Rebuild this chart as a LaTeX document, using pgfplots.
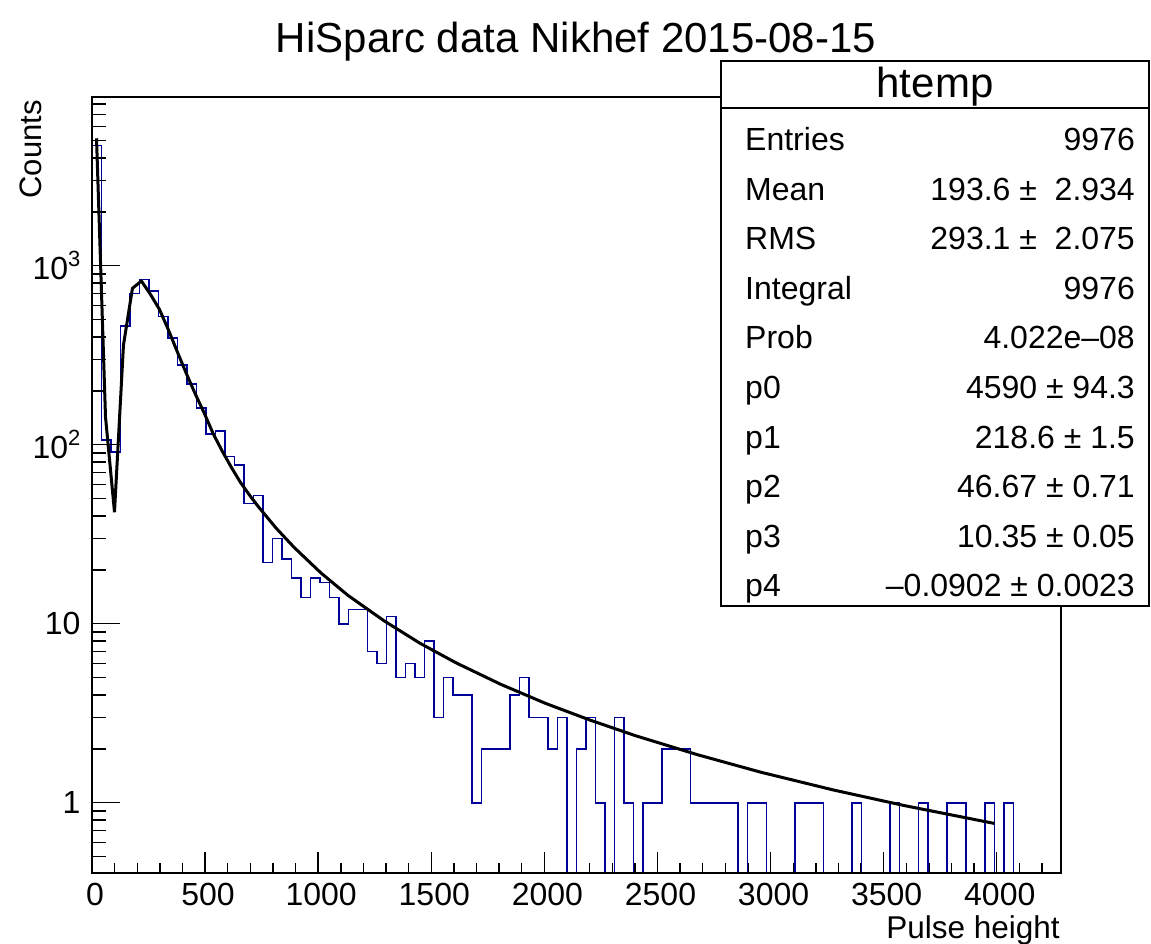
\documentclass[border=0pt]{standalone}
\usepackage{pgfplots}
\pgfplotsset{compat=1.18}
\usepackage{fontspec}
\setmainfont{Liberation Sans}
\definecolor{rootblue}{RGB}{0,0,153}
\newcommand{\sz}[1]{\fontsize{#1bp}{#1bp}\selectfont}
\newcommand{\sps}[1]{\raisebox{0.42em}{\sz{22}#1}}
\begin{document}
\begin{tikzpicture}
\useasboundingbox (0,0) rectangle (1151bp,944bp);
\begin{axis}[
  at={(92bp,71bp)}, anchor=south west, scale only axis,
  width=969bp, height=776bp,
  xmin=0, xmax=4284, ymin=0.405, ymax=8760, ymode=log,
  xtick={0,500,...,4000},
  xticklabels={0,500,1000,1500,2000,2500,3000,3500,4000},
  minor xtick={0,100,...,4200},
  ytick=\empty, yminorticks=false,
  xtick pos=bottom, tick align=inside,
  major tick length=21bp, minor tick length=10.5bp,
  axis line style={line width=1.6bp},
  every tick/.style={black, line width=1.4bp},
  xticklabel style={font=\sz{32}, yshift=-7bp, xshift=3bp},
  clip=true,
]
\addplot[const plot, rootblue, line width=1.6bp] coordinates {
(0,4690) (42,106) (84,91) (126,460) (168,701) (210,839) (252,725) (294,519)
(336,396) (378,279) (420,218) (462,160) (504,115) (546,119) (588,86) (630,77)
(672,47) (714,52) (756,22) (798,30) (840,23) (882,18) (924,14) (966,18)
(1008,17) (1050,14) (1092,10) (1134,12) (1176,12) (1218,7) (1260,6) (1302,11)
(1344,5) (1386,6) (1428,5) (1470,8) (1512,3) (1554,5) (1596,4) (1638,4)
(1680,1) (1722,2) (1764,2) (1806,2) (1848,4) (1890,5) (1932,3) (1974,3)
(2016,2) (2058,3) (2100,0.01) (2142,2) (2184,3) (2226,1) (2268,0.01) (2310,3)
(2352,1) (2394,0.01) (2436,1) (2478,1) (2520,2) (2562,2) (2604,2) (2646,1)
(2688,1) (2730,1) (2772,1) (2814,1) (2856,0.01) (2898,1) (2940,1) (2982,0.01)
(3024,0.01) (3066,0.01) (3108,1) (3150,1) (3192,1) (3234,0.01) (3276,0.01) (3318,0.01)
(3360,1) (3402,0.01) (3444,0.01) (3486,0.01) (3528,1) (3570,0.01) (3612,0.01) (3654,1)
(3696,0.01) (3738,0.01) (3780,1) (3822,1) (3864,0.01) (3906,0.01) (3948,1) (3990,0.01)
(4032,1) (4074,0.01) (4116,0.01) (4158,0.01) (4200,0.01) (4242,0.01) (4284,0.01)
};
\addplot[black, line width=3bp] coordinates {
(20,5150) (59.7,143) (99.4,42) (139.1,360) (178.8,748) (218.5,821) (258.2,692)
(297.9,571) (337.6,439) (377.3,330) (417,250) (456.7,192) (496.4,150) (536.1,115)
(575.8,92) (615.5,75) (655.2,61.9) (694.9,52.6) (734.6,45.2) (814,34.2) (893.4,26.7)
(1012.5,19.2) (1131.6,14.4) (1290.4,10.4) (1449.2,7.79) (1608,6.06) (1806.5,4.59)
(2005,3.59) (2203.5,2.89) (2402,2.37) (2679.9,1.85) (2957.8,1.48) (3275.4,1.18)
(3593,0.963) (3990,0.766)
};
\end{axis}
\begin{axis}[
  at={(92bp,71bp)}, anchor=south west, scale only axis,
  width=969bp, height=776bp,
  xmin=0, xmax=4284, ymin=0.405, ymax=8760, ymode=log,
  xtick=\empty, xminorticks=false,
  ytick={1,10,100,1000},
  yticklabels={1,10,{10\sps{2}},{10\sps{3}}},
  minor ytick={0.5,0.6,0.7,0.8,0.9,2,3,4,5,6,7,8,9,20,30,40,50,60,70,80,90,200,300,400,500,600,700,800,900,2000,3000,4000,5000,6000,7000,8000},
  ytick pos=left, tick align=inside,
  major tick length=28bp, minor tick length=14bp,
  axis line style={line width=1.6bp},
  every tick/.style={black, line width=1.4bp},
  yticklabel style={font=\sz{32}, xshift=-8bp},
]
\end{axis}
% title and axis titles
\node[anchor=base, inner sep=0, font=\sz{42}] at (576bp,891bp) {HiSparc data Nikhef 2015-08-15};
\node[anchor=base east, rotate=90, inner sep=0, font=\sz{31}] at (41bp,844bp) {Counts};
\node[anchor=base east, inner sep=0, font=\sz{31.5}] at (1060bp,6bp) {Pulse height};
% stats box
\draw[line width=1.4bp, fill=white] (721bp,338bp) rectangle (1149bp,883bp);
\draw[line width=1.4bp] (721bp,836bp) -- (1149bp,836bp);
\node[anchor=base, inner sep=0, font=\sz{42}] at (935bp,846bp) {htemp};
\begin{scope}[every node/.style={inner sep=0, font=\sz{32}}]
\node[anchor=base west] at (745bp,793.5bp) {Entries};
\node[anchor=base east] at (1135bp,793.5bp) {9976};
\node[anchor=base west] at (745bp,743.9bp) {Mean};
\node[anchor=base east] at (1135bp,743.9bp) {193.6 ± \ 2.934};
\node[anchor=base west] at (745bp,694.3bp) {RMS};
\node[anchor=base east] at (1135bp,694.3bp) {293.1 ± \ 2.075};
\node[anchor=base west] at (745bp,644.7bp) {Integral};
\node[anchor=base east] at (1135bp,644.7bp) {9976};
\node[anchor=base west] at (745bp,595.1bp) {Prob};
\node[anchor=base east] at (1135bp,595.1bp) {4.022e\textendash08};
\node[anchor=base west] at (745bp,545.5bp) {p0};
\node[anchor=base east] at (1135bp,545.5bp) {4590 ± 94.3};
\node[anchor=base west] at (745bp,495.9bp) {p1};
\node[anchor=base east] at (1135bp,495.9bp) {218.6 ± 1.5};
\node[anchor=base west] at (745bp,446.3bp) {p2};
\node[anchor=base east] at (1135bp,446.3bp) {46.67 ± 0.71};
\node[anchor=base west] at (745bp,396.7bp) {p3};
\node[anchor=base east] at (1135bp,396.7bp) {10.35 ± 0.05};
\node[anchor=base west] at (745bp,347.1bp) {p4};
\node[anchor=base east] at (1135bp,347.1bp) {\textendash 0.0902 ± 0.0023};
\end{scope}
\end{tikzpicture}
\end{document}
